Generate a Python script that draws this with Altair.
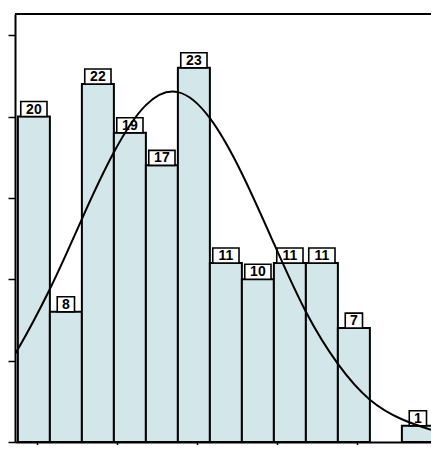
import altair as alt
import pandas as pd

counts = [20, 8, 22, 19, 17, 23, 11, 10, 11, 11, 7, 0, 1]
bin_starts = list(range(13))
curve_x = [-0.09, 0, 1, 2, 3, 4, 5, 6, 7, 8, 9, 10, 11, 12, 12.91]
curve_y = [5.6, 5.7, 9.4, 13.7, 17.8, 20.7, 21.5, 19.9, 16.5, 12.2, 8.0, 4.8, 2.6, 1.4, 0.75]
x_ticks = [0.6, 3.1, 5.6, 8.1, 10.6]
y_ticks = [0, 5, 10, 15, 20, 25]

bars = pd.DataFrame({"start": bin_starts, "count": counts})
bars["end"] = bars["start"] + 1
bars["mid"] = bars["start"] + 0.5
bars["label"] = bars["count"].astype(str)
bars["digits"] = bars["label"].str.len()
bars = bars[bars["count"] > 0]
curve = pd.DataFrame({"x": curve_x, "y": curve_y})

W, H = 416, 428
xs = alt.Scale(domain=[-0.09, 12.91], nice=False, zero=False)
ys = alt.Scale(domain=[0, 26.3], nice=False)

xaxis = alt.Axis(values=x_ticks, labels=False, title=None, grid=False, tickSize=8,
                 tickWidth=1.5, domainWidth=2, domainColor="black", tickColor="black")
yaxis = alt.Axis(values=y_ticks, labels=False, title=None, grid=False, tickSize=7,
                 tickWidth=1.5, domainWidth=2, domainColor="black", tickColor="black")

base = alt.Chart(bars)

bar_layer = base.mark_rect(fill="#d3e6ea", stroke="black", strokeWidth=2).encode(
    x=alt.X("start:Q", scale=xs, axis=xaxis),
    x2="end:Q",
    y=alt.Y("count:Q", scale=ys, axis=yaxis),
    y2=alt.datum(0),
)

box2 = base.transform_filter("datum.digits == 2").mark_point(
    shape="M-1.75,-1H1.75V1H-1.75Z", size=225, filled=True, fill="white",
    stroke="black", strokeWidth=1.6, opacity=1, yOffset=-7.5,
).encode(x=alt.X("mid:Q", scale=xs), y=alt.Y("count:Q", scale=ys))

box1 = base.transform_filter("datum.digits == 1").mark_point(
    shape="M-1.15,-1H1.15V1H-1.15Z", size=225, filled=True, fill="white",
    stroke="black", strokeWidth=1.6, opacity=1, yOffset=-7.5,
).encode(x=alt.X("mid:Q", scale=xs), y=alt.Y("count:Q", scale=ys))

text = base.mark_text(font="Liberation Sans", fontSize=14, fontWeight="bold",
                      color="black", baseline="middle", dy=-7).encode(
    x=alt.X("mid:Q", scale=xs), y=alt.Y("count:Q", scale=ys), text="label:N"
)

line = alt.Chart(curve).mark_line(color="black", strokeWidth=2, interpolate="natural",
                                  clip=True).encode(
    x=alt.X("x:Q", scale=xs), y=alt.Y("y:Q", scale=ys)
)

top = alt.Chart(bars).mark_rule(color="black", strokeWidth=2).encode(
    x=alt.value(0), x2=alt.value(W), y=alt.value(0)
)

chart = alt.layer(bar_layer, box2, box1, text, line, top).properties(
    width=W, height=H,
    autosize=alt.AutoSizeParams(type="none"),
    padding={"left": 7, "top": 6, "right": 0, "bottom": 3},
    background="white",
).configure_view(stroke=None)

chart.save("out.html", embed_options={"renderer": "svg", "actions": False})
